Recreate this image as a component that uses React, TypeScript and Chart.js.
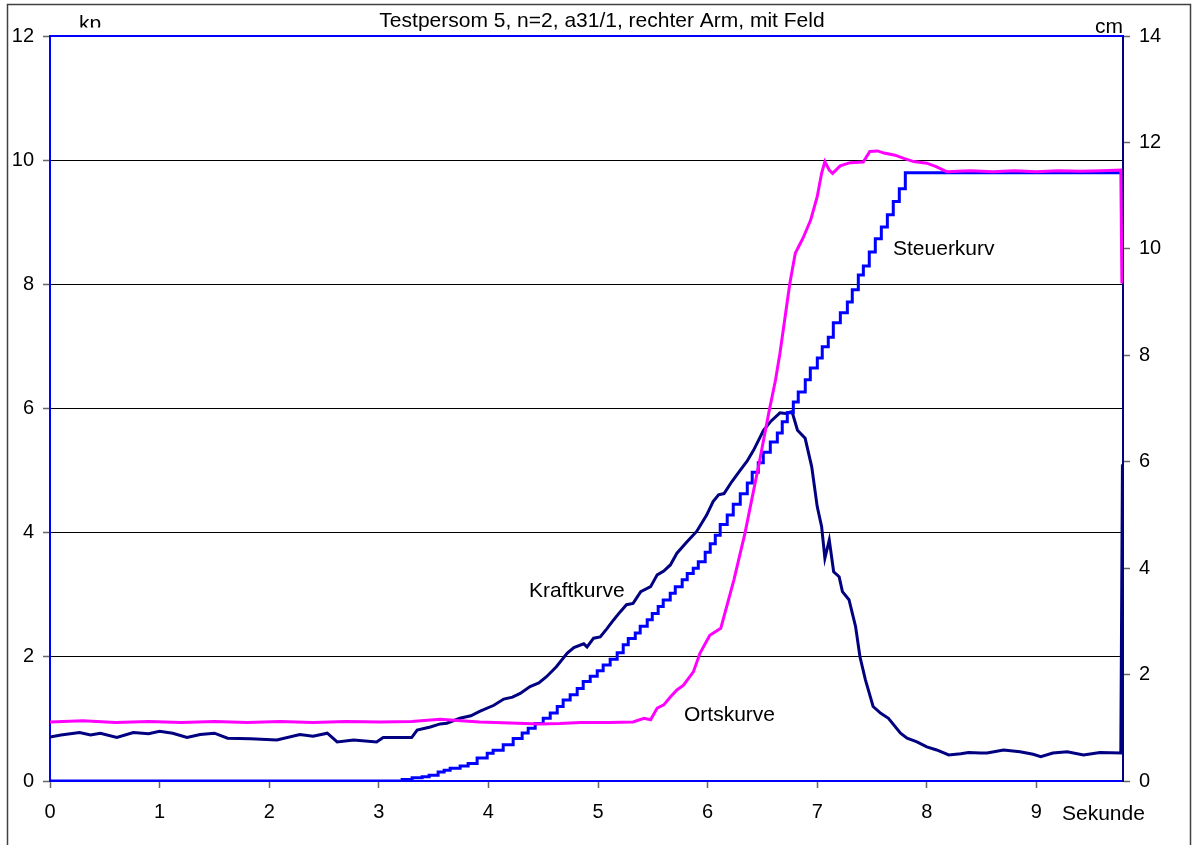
import React, { useEffect, useRef } from "react";
import { Chart, registerables } from "chart.js";

Chart.register(...registerables);

// ---------- data ----------
const titleText = "Testpersom 5, n=2, a31/1, rechter Arm, mit Feld";
const leftUnit = "kp";
const rightUnit = "cm";
const xUnit = "Sekunde";
const xTicks = [0, 1, 2, 3, 4, 5, 6, 7, 8, 9];
const xMax = 9.79;
const leftMax = 12;
const rightMax = 14;

// Kraftkurve (kp, left axis)
const kraftTime = [
  0.0, 0.1, 0.27, 0.37, 0.46, 0.61, 0.76, 0.9, 1.0, 1.12, 1.25, 1.37, 1.5, 1.62, 1.83, 2.07, 2.28, 2.4, 2.53, 2.62,
  2.77, 2.98, 3.04, 3.3, 3.35, 3.47, 3.56, 3.62, 3.74, 3.84, 3.92, 4.05, 4.14, 4.22, 4.29, 4.38, 4.46, 4.53, 4.62,
  4.72, 4.78, 4.87, 4.9, 4.96, 5.02, 5.08, 5.14, 5.2, 5.26, 5.32, 5.39, 5.48, 5.54, 5.6, 5.66, 5.72, 5.81, 5.9, 5.99,
  6.05, 6.1, 6.15, 6.22, 6.3, 6.36, 6.42, 6.51, 6.58, 6.66, 6.71, 6.77, 6.82, 6.89, 6.95, 7.0, 7.04, 7.07, 7.11,
  7.15, 7.2, 7.23, 7.29, 7.35, 7.39, 7.44, 7.51, 7.58, 7.65, 7.76, 7.82, 7.91, 8.0, 8.09, 8.2, 8.31, 8.38, 8.49,
  8.55, 8.7, 8.85, 8.97, 9.04, 9.15, 9.28, 9.43, 9.58, 9.77, 9.785,
];
const kraftValues = [
  0.71, 0.74, 0.78, 0.74, 0.77, 0.7, 0.78, 0.76, 0.8, 0.77, 0.7, 0.75, 0.77, 0.69, 0.68, 0.66, 0.75, 0.72, 0.77, 0.63,
  0.66, 0.63, 0.7, 0.7, 0.82, 0.87, 0.92, 0.93, 1.01, 1.05, 1.12, 1.22, 1.32, 1.35, 1.41, 1.52, 1.58, 1.68, 1.84,
  2.06, 2.15, 2.21, 2.16, 2.3, 2.32, 2.45, 2.59, 2.72, 2.84, 2.86, 3.05, 3.13, 3.32, 3.38, 3.48, 3.67, 3.85, 4.02,
  4.28, 4.5, 4.61, 4.63, 4.82, 5.01, 5.15, 5.33, 5.65, 5.8, 5.93, 5.92, 5.95, 5.65, 5.52, 5.06, 4.42, 4.1, 3.59, 3.88,
  3.37, 3.29, 3.05, 2.92, 2.49, 2.0, 1.63, 1.2, 1.09, 1.01, 0.77, 0.69, 0.63, 0.55, 0.5, 0.42, 0.44, 0.46, 0.45,
  0.45, 0.5, 0.47, 0.43, 0.39, 0.45, 0.47, 0.42, 0.46, 0.45, 5.1,
];

// Ortskurve (cm, right axis)
const ortTime = [
  0.0, 0.3, 0.6, 0.9, 1.2, 1.5, 1.8, 2.1, 2.4, 2.7, 3.01, 3.3, 3.56, 3.75, 3.92, 4.2, 4.47, 4.65, 4.84, 5.1, 5.32,
  5.42, 5.48, 5.54, 5.6, 5.66, 5.72, 5.78, 5.87, 5.93, 6.02, 6.12, 6.24, 6.34, 6.47, 6.56, 6.62, 6.66, 6.75, 6.8,
  6.83, 6.87, 6.94, 7.0, 7.04, 7.07, 7.11, 7.14, 7.21, 7.3, 7.42, 7.48, 7.55, 7.61, 7.71, 7.79, 7.88, 8.0, 8.09,
  8.18, 8.4, 8.6, 8.8, 9.0, 9.2, 9.4, 9.6, 9.77, 9.78,
];
const ortValues = [
  1.11, 1.13, 1.1, 1.12, 1.1, 1.12, 1.1, 1.12, 1.1, 1.12, 1.11, 1.12, 1.16, 1.13, 1.11, 1.09, 1.07, 1.08, 1.1, 1.1,
  1.11, 1.18, 1.15, 1.37, 1.43, 1.58, 1.71, 1.8, 2.05, 2.4, 2.74, 2.87, 3.78, 4.65, 5.97, 6.94, 7.54, 8.04, 9.35,
  9.92, 10.04, 10.2, 10.54, 10.98, 11.42, 11.64, 11.48, 11.42, 11.56, 11.62, 11.63, 11.83, 11.84, 11.8, 11.76,
  11.7, 11.64, 11.61, 11.54, 11.45, 11.47, 11.45, 11.47, 11.45, 11.47, 11.46, 11.47, 11.48, 9.35,
];

// Steuerkurve (cm, right axis, stepped)
const steuerTime = [
  0.0, 3.213, 3.304, 3.395, 3.459, 3.541, 3.596, 3.651, 3.742, 3.815, 3.897, 3.989, 4.043, 4.135, 4.226, 4.308,
  4.363, 4.427, 4.5, 4.564, 4.628, 4.682, 4.746, 4.81, 4.865, 4.929, 4.993, 5.047, 5.111, 5.175, 5.23, 5.276, 5.34,
  5.385, 5.449, 5.495, 5.549, 5.595, 5.659, 5.705, 5.768, 5.814, 5.869, 5.915, 5.978, 6.024, 6.07, 6.115, 6.179,
  6.234, 6.298, 6.362, 6.407, 6.462, 6.508, 6.572, 6.636, 6.681, 6.727, 6.782, 6.827, 6.891, 6.937, 7.001, 7.046,
  7.101, 7.147, 7.211, 7.275, 7.32, 7.375, 7.421, 7.475, 7.53, 7.585, 7.64, 7.694, 7.749, 7.804, 9.78,
];
const steuerValues = [
  0.0, 0.03, 0.06, 0.08, 0.11, 0.17, 0.2, 0.24, 0.28, 0.33, 0.43, 0.52, 0.58, 0.68, 0.8, 0.9, 0.99, 1.08, 1.18, 1.28,
  1.4, 1.52, 1.62, 1.74, 1.87, 1.97, 2.07, 2.18, 2.29, 2.41, 2.56, 2.68, 2.78, 2.91, 3.03, 3.15, 3.28, 3.4, 3.53,
  3.65, 3.78, 3.9, 4.0, 4.12, 4.3, 4.46, 4.62, 4.82, 5.0, 5.2, 5.4, 5.6, 5.8, 5.98, 6.18, 6.37, 6.54, 6.75, 6.92,
  7.12, 7.31, 7.54, 7.76, 7.95, 8.16, 8.34, 8.61, 8.8, 9.0, 9.23, 9.51, 9.68, 9.94, 10.19, 10.41, 10.64, 10.89,
  11.13, 11.43, 11.43,
];

const labelKraft = "Kraftkurve";
const labelOrt = "Ortskurve";
const labelSteuer = "Steuerkurv";

const FONT = "'Liberation Sans', Arial, Helvetica, sans-serif";
const W = 1196;
const H = 845;

function toXY(ts: number[], vs: number[]) {
  return ts.map((t, i) => ({ x: t, y: vs[i] }));
}

export default function App() {
  const ref = useRef<HTMLCanvasElement | null>(null);

  useEffect(() => {
    const canvas = ref.current;
    if (!canvas) return;

    const textPlugin = {
      id: "textPlugin",
      afterDraw(chart: any) {
        const ctx = chart.ctx as CanvasRenderingContext2D;
        const a = chart.chartArea;
        ctx.save();
        // top border of plot area
        ctx.strokeStyle = "#0000FF";
        ctx.lineWidth = 2;
        ctx.beginPath();
        ctx.moveTo(a.left, a.top);
        ctx.lineTo(a.right, a.top);
        ctx.stroke();

        ctx.fillStyle = "#000";
        ctx.font = `21px ${FONT}`;
        ctx.textBaseline = "alphabetic";
        ctx.textAlign = "center";
        ctx.fillText(titleText, 602, 27);

        ctx.textAlign = "left";
        // "kp" clipped like the original
        ctx.save();
        ctx.beginPath();
        ctx.rect(60, 0, 60, 27.5);
        ctx.clip();
        ctx.fillText(leftUnit, 79, 30);
        ctx.restore();

        ctx.fillText(rightUnit, 1095, 33);
        ctx.fillText(xUnit, 1062, 820);
        ctx.fillText(labelKraft, 529, 597);
        ctx.fillText(labelOrt, 684, 721);
        ctx.fillText(labelSteuer, 893, 255);

        // outer frame
        ctx.strokeStyle = "#404040";
        ctx.lineWidth = 1.5;
        ctx.strokeRect(7.5, 4.5, 1183, 900);
        ctx.restore();
      },
    };

    const chart = new Chart(canvas, {
      type: "line",
      data: {
        datasets: [
          {
            label: labelOrt,
            data: toXY(ortTime, ortValues),
            yAxisID: "y1",
            borderColor: "#FF00FF",
            borderWidth: 3,
            pointRadius: 0,
            tension: 0,
            order: 0,
          },
          {
            label: labelSteuer,
            data: toXY(steuerTime, steuerValues),
            yAxisID: "y1",
            borderColor: "#0000FF",
            borderWidth: 3,
            pointRadius: 0,
            stepped: true,
            order: 1,
          },
          {
            label: labelKraft,
            data: toXY(kraftTime, kraftValues),
            yAxisID: "y",
            borderColor: "#000080",
            borderWidth: 3,
            pointRadius: 0,
            tension: 0,
            order: 2,
          },
        ],
      },
      options: {
        animation: false,
        responsive: false,
        maintainAspectRatio: false,
        devicePixelRatio: 1,
        layout: { padding: { top: 36, left: 0, right: 0, bottom: 0 } },
        plugins: {
          legend: { display: false },
          tooltip: { enabled: false },
          title: { display: false },
        },
        scales: {
          x: {
            type: "linear",
            min: 0,
            max: xMax,
            afterBuildTicks(scale: any) {
              scale.ticks = xTicks.map((v) => ({ value: v }));
            },
            afterFit(scale: any) {
              scale.height = H - 781;
            },
            grid: {
              drawOnChartArea: false,
              drawTicks: true,
              tickLength: 7,
              tickColor: "#666",
              tickWidth: 1.5,
            },
            border: { display: true, color: "#0000FF", width: 2 },
            ticks: {
              color: "#000",
              font: { family: FONT, size: 20 },
              padding: 12,
              maxRotation: 0,
              autoSkip: false,
              callback: (v: any) => String(v),
            },
          },
          y: {
            type: "linear",
            position: "left",
            min: 0,
            max: leftMax,
            afterFit(scale: any) {
              scale.width = 50;
            },
            grid: {
              color: "#000",
              lineWidth: 1,
              drawTicks: true,
              tickLength: 7,
              tickColor: "#666",
              tickWidth: 1.5,
            },
            border: { display: true, color: "#0000FF", width: 2 },
            ticks: {
              stepSize: 2,
              color: "#000",
              font: { family: FONT, size: 20 },
              padding: 9,
            },
          },
          y1: {
            type: "linear",
            position: "right",
            min: 0,
            max: rightMax,
            afterFit(scale: any) {
              scale.width = W - 1123;
            },
            grid: {
              drawOnChartArea: false,
              drawTicks: true,
              tickLength: 7,
              tickColor: "#666",
              tickWidth: 1.5,
            },
            border: { display: true, color: "#000080", width: 2 },
            ticks: {
              stepSize: 2,
              color: "#000",
              font: { family: FONT, size: 20 },
              padding: 9,
            },
          },
        },
      },
      plugins: [textPlugin],
    } as any);

    return () => {
      chart.destroy();
    };
  }, []);

  return (
    <div style={{ position: "absolute", left: 0, top: 0, width: W, height: H, background: "#fff" }}>
      <canvas ref={ref} width={W} height={H} style={{ width: W, height: H, display: "block" }} />
    </div>
  );
}
